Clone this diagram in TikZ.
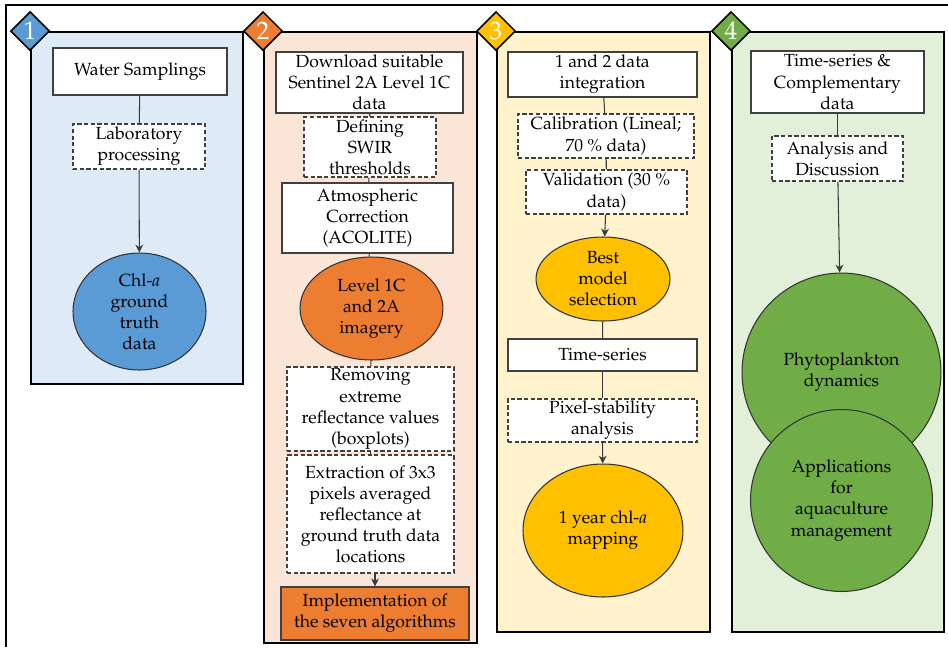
\documentclass[tikz,border=0pt]{standalone}
\usepackage[T1]{fontenc}
\usepackage{mathpazo}
\usetikzlibrary{shapes.geometric,arrows.meta}

\definecolor{blueA}{HTML}{5B9BD5}
\definecolor{blueL}{HTML}{DEEBF7}
\definecolor{orangeA}{HTML}{ED7D31}
\definecolor{orangeL}{HTML}{FBE5D6}
\definecolor{yellowA}{HTML}{FFC000}
\definecolor{yellowL}{HTML}{FFF2CC}
\definecolor{greenA}{HTML}{70AD47}
\definecolor{greenL}{HTML}{E2F0D9}
\definecolor{lineC}{HTML}{3A3A3A}

\tikzset{
  panel/.style={draw=black, line width=1.1pt, fill=#1},
  numtag/.style={diamond, draw=black, line width=0.9pt, fill=#1, text=white,
    minimum width=0.78cm, minimum height=0.78cm, inner sep=0pt, font=\Large},
  solidbox/.style={draw=black!75, line width=0.7pt, fill=white, inner sep=0pt, align=center},
  dashbox/.style={solidbox, dash pattern=on 2.4pt off 1.4pt},
  ellip/.style={ellipse, draw=black!80, line width=0.6pt, fill=#1, inner sep=0pt, align=center},
  blob/.style={circle, draw=black!80, line width=0.6pt, fill=greenA, inner sep=0pt, align=center},
  conn/.style={draw=lineC, line width=0.6pt},
}

\begin{document}
\begin{tikzpicture}[x=0.02cm, y=-0.02cm, >={Stealth[length=4.5pt,width=4.5pt]}]
  \useasboundingbox (0,0) rectangle (948,647);
  \draw[line width=1.1pt] (6,647) -- (6,5) -- (948,5);

  % panels and their numbers
  \node[panel=blueL, minimum width=4.24cm, minimum height=7.04cm] (p1) at (137,208) {};
  \node[panel=orangeL, minimum width=4.26cm, minimum height=12.22cm] (p2) at (370.5,337.5) {};
  \node[panel=yellowL, minimum width=4.26cm, minimum height=12cm] (p3) at (603.5,332) {};
  \node[panel=greenL, minimum width=4.24cm, minimum height=12cm] (p4) at (838,332) {};
  \node[numtag=blueA] (n1) at (p1.north west) {1};
  \node[numtag=orangeA] (n2) at (p2.north west) {2};
  \node[numtag=yellowA] (n3) at (p3.north west) {3};
  \node[numtag=greenA] (n4) at (p4.north west) {4};

  % 1
  \node[solidbox, minimum width=3.48cm, minimum height=0.94cm] (ws) at (140,71.5) {Water Samplings};
  \node[dashbox, minimum width=2.64cm, minimum height=0.9cm] (lab) at (139,146.5) {Laboratory\\processing};
  \node[ellip=blueA, minimum width=2.66cm, minimum height=2.34cm] (chl) at (139.5,311.5) {Chl-\textit{a}\\ground\\truth\\data};

  % 2
  \node[solidbox, minimum width=3.74cm, minimum height=1.22cm] (dl) at (369.5,82.5) {Download suitable\\Sentinel 2A Level 1C\\data};
  \node[dashbox, minimum width=2.64cm, minimum height=1.2cm] (swir) at (370,147) {Defining\\SWIR\\thresholds};
  \node[solidbox, minimum width=3.42cm, minimum height=1.4cm] (atm) at (367.5,218) {Atmospheric\\Correction\\(ACOLITE)};
  \node[ellip=orangeA, minimum width=2.86cm, minimum height=2.06cm] (lvl) at (371.5,308.5) {Level 1C\\and 2A\\imagery};
  \node[dashbox, minimum width=3.34cm, minimum height=1.68cm] (rem) at (370.5,409) {Removing\\extreme\\reflectance values\\(boxplots)};
  \node[dashbox, minimum width=3.34cm, minimum height=2.36cm] (ext) at (370.5,514) {Extraction of 3x3\\pixels averaged\\reflectance at\\ground truth data\\locations};
  \node[solidbox, fill=orangeA, minimum width=3.76cm, minimum height=1.06cm] (impl) at (375,613.5) {Implementation of\\the seven algorithms};

  % 3
  \node[solidbox, minimum width=3.78cm, minimum height=0.9cm] (integ) at (602.5,74.5) {1 and 2 data\\integration};
  \node[dashbox, minimum width=3.52cm, minimum height=0.88cm] (cal) at (606,136) {Calibration (Lineal;\\70 \% data)};
  \node[dashbox, minimum width=3.22cm, minimum height=0.88cm] (val) at (606.5,192) {Validation (30 \%\\data)};
  \node[ellip=yellowA, minimum width=2.68cm, minimum height=1.68cm] (best) at (603,279) {Best\\model\\selection};
  \node[solidbox, minimum width=3.78cm, minimum height=0.64cm] (ts) at (602.5,355) {Time-series};
  \node[dashbox, minimum width=3.78cm, minimum height=0.86cm] (pix) at (602.5,420.5) {Pixel-stability\\analysis};
  \node[ellip=yellowA, minimum width=3.2cm, minimum height=2.66cm] (year) at (603,530.5) {1 year chl-\textit{a}\\mapping};

  % 4
  \node[solidbox, minimum width=3.46cm, minimum height=1.24cm] (tsc) at (837.5,82) {Time-series \&\\Complementary\\data};
  \node[dashbox, minimum width=2.62cm, minimum height=0.9cm] (ana) at (837.5,158.5) {Analysis and\\Discussion};
  \node[blob, minimum size=3.98cm] (phy) at (841.5,372.5) {Phytoplankton\\dynamics};
  \node[blob, minimum size=3.64cm] (app) at (841.5,500.5) {Applications\\for\\aquaculture\\management};

  \draw[conn] (ws) -- (lab);
  \draw[conn,->] (lab) -- (chl);
  \draw[conn] (dl) -- (swir);
  \draw[conn] (swir) -- (atm);
  \draw[conn] (atm) -- (lvl);
  \draw[conn] (lvl) -- (rem);
  \draw[conn] (rem) -- (ext);
  \draw[conn,->] (ext.south -| impl) -- (impl);
  \draw[conn] (integ) -- (cal);
  \draw[conn] (cal) -- (val);
  \draw[conn,->] (val) -- (best);
  \draw[conn] (best) -- (ts);
  \draw[conn] (ts) -- (pix);
  \draw[conn,->] (pix) -- (year);
  \draw[conn] (tsc) -- (ana);
  \draw[conn,->] (ana) -- (phy);
\end{tikzpicture}
\end{document}
